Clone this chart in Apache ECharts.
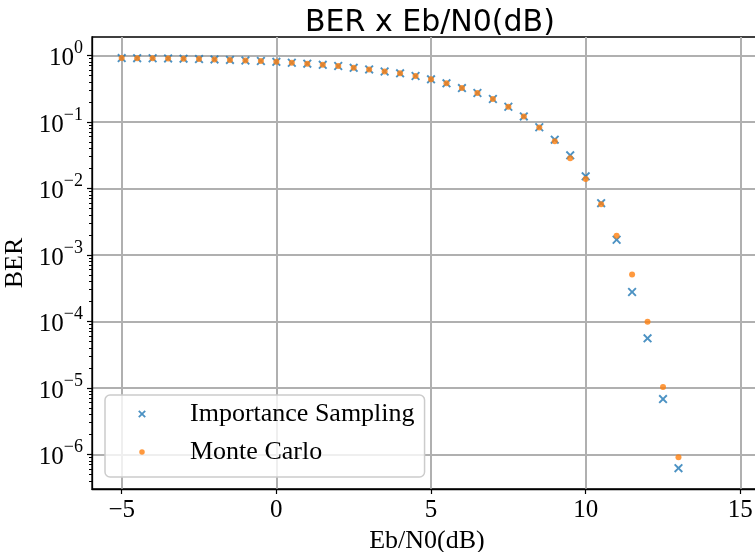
<!DOCTYPE html>
<html>
<head>
<meta charset="utf-8">
<script src="https://cdn.jsdelivr.net/npm/echarts@6/dist/echarts.min.js"></script>
<style>html,body{margin:0;padding:0;background:#fff}#c{width:755px;height:552px}</style>
</head>
<body>
<div id="c"></div>
<script>
const ebn0 = [-5, -4.5, -4, -3.5, -3, -2.5, -2, -1.5, -1, -0.5, 0, 0.5, 1, 1.5, 2, 2.5, 3, 3.5, 4, 4.5, 5, 5.5, 6, 6.5, 7, 7.5, 8, 8.5, 9, 9.5, 10, 10.5, 11, 11.5, 12, 12.5, 13];
const berIS = [0.912, 0.909, 0.905, 0.900, 0.892, 0.880, 0.870, 0.855, 0.838, 0.823, 0.800, 0.775, 0.750, 0.720, 0.692, 0.650, 0.614, 0.572, 0.537, 0.490, 0.436, 0.380, 0.323, 0.272, 0.221, 0.169, 0.121, 0.083, 0.054, 0.0314, 0.0152, 0.0060, 0.00169, 2.77e-4, 5.56e-5, 6.8e-6, 6.2e-7];
const berMC = [0.912, 0.909, 0.905, 0.900, 0.892, 0.880, 0.870, 0.855, 0.838, 0.823, 0.800, 0.775, 0.750, 0.720, 0.692, 0.650, 0.614, 0.572, 0.537, 0.490, 0.436, 0.380, 0.323, 0.272, 0.221, 0.169, 0.121, 0.082, 0.051, 0.0283, 0.0138, 0.0058, 0.00194, 5.09e-4, 9.9e-5, 1.03e-5, 9.1e-7];
const xTicks = [-5, 0, 5, 10, 15];
const yTicks = [1e-6, 1e-5, 1e-4, 1e-3, 1e-2, 1e-1, 1];
const minorMultipliers = [2, 3, 4, 5, 6, 7, 8, 9];
const minorDecades = [1e-7, 1e-6, 1e-5, 1e-4, 1e-3, 1e-2, 1e-1];
const seriesNames = ['Importance Sampling', 'Monte Carlo'];

const yMin = 3.02e-7, yMax = 1.89;
const yMinor = [];
minorDecades.forEach(d => minorMultipliers.forEach(m => {
  const v = d * m;
  if (v > yMin && v < yMax) yMinor.push(v);
}));

const serif = 'Liberation Serif';
const xPath = 'path://M0,1.5L1.5,0L5,3.5L8.5,0L10,1.5L6.5,5L10,8.5L8.5,10L5,6.5L1.5,10L0,8.5L3.5,5Z';
const xLegend = 'path://M0,0M14,14M2.5,4L4,2.5L7,5.5L10,2.5L11.5,4L8.5,7L11.5,10L10,11.5L7,8.5L4,11.5L2.5,10L5.5,7Z';
const dotLegend = 'path://M0,0M14,14M7,3.8A3.2,3.2,0,1,1,7,10.2A3.2,3.2,0,1,1,7,3.8Z';

const chart = echarts.init(document.getElementById('c'), null, {renderer: 'canvas'});
chart.setOption({
  animation: false,
  backgroundColor: '#ffffff',
  title: {
    text: 'BER x Eb/N0(dB)',
    left: 300, top: 3,
    textStyle: {fontFamily: 'DejaVu Sans', fontSize: 30, fontWeight: 'normal', color: '#000'}
  },
  grid: {left: 92, top: 37, right: -7, bottom: 63, show: true, borderColor: '#000', borderWidth: 1.3, containLabel: false, outerBoundsMode: 'none'},
  legend: {
    orient: 'vertical',
    left: 105, top: 395,
    padding: [4, 10, 10, 31],
    itemGap: 8,
    itemWidth: 12, itemHeight: 12,
    backgroundColor: 'rgba(255,255,255,0.8)',
    borderColor: '#cccccc', borderWidth: 1.5, borderRadius: 5,
    textStyle: {fontFamily: serif, fontSize: 26, color: '#000', lineHeight: 30, padding: [0, 0, 0, 37]},
    data: [
      {name: seriesNames[0], icon: xLegend},
      {name: seriesNames[1], icon: dotLegend}
    ]
  },
  xAxis: {
    type: 'value',
    min: -5.96, max: 15.7,
    name: 'Eb/N0(dB)', nameLocation: 'middle', nameGap: 30,
    nameTextStyle: {fontFamily: serif, fontSize: 26, color: '#000'},
    axisLine: {show: true, onZero: false, lineStyle: {color: '#000', width: 1.3}},
    axisTick: {show: true, length: 5, customValues: xTicks, lineStyle: {color: '#000', width: 1.2}},
    axisLabel: {
      customValues: xTicks, margin: 9,
      fontFamily: serif, fontSize: 25, color: '#000',
      formatter: v => String(v).replace('-', '\u2212')
    },
    splitLine: {show: true, lineStyle: {color: '#b0b0b0', width: 2}}
  },
  yAxis: [
    {
      type: 'log',
      min: yMin, max: yMax,
      name: 'BER', nameLocation: 'middle', nameGap: 59,
      nameTextStyle: {fontFamily: serif, fontSize: 26, color: '#000'},
      axisLine: {show: true, onZero: false, lineStyle: {color: '#000', width: 1.3}},
      axisTick: {show: true, length: 5, customValues: yTicks, lineStyle: {color: '#000', width: 1.2}},
      axisLabel: {
        customValues: yTicks, margin: 9,
        formatter: v => {
          const k = Math.round(Math.log10(v));
          return '{b|10}{e|' + (k < 0 ? '\u2212' + (-k) : String(k)) + '}';
        },
        rich: {
          b: {fontFamily: serif, fontSize: 25, color: '#000', lineHeight: 32, verticalAlign: 'bottom'},
          e: {fontFamily: serif, fontSize: 18, color: '#000', lineHeight: 18, verticalAlign: 'top'}
        }
      },
      splitLine: {show: true, lineStyle: {color: '#b0b0b0', width: 2}}
    },
    {
      type: 'log',
      min: yMin, max: yMax,
      position: 'left', offset: 0,
      axisLine: {show: false, onZero: false},
      axisTick: {show: true, length: 3, customValues: yMinor, lineStyle: {color: '#000', width: 1}},
      axisLabel: {show: false},
      splitLine: {show: false}
    }
  ],
  series: [
    {
      name: seriesNames[0], type: 'scatter',
      symbol: xPath, symbolSize: 9,
      itemStyle: {color: '#1f77b4'},
      data: ebn0.map((x, i) => [x, berIS[i]]),
      z: 2
    },
    {
      name: seriesNames[1], type: 'scatter',
      symbol: 'circle', symbolSize: 6,
      itemStyle: {color: '#ff7f0e'},
      data: ebn0.map((x, i) => [x, berMC[i]]),
      z: 3
    }
  ]
});
</script>
</body>
</html>
